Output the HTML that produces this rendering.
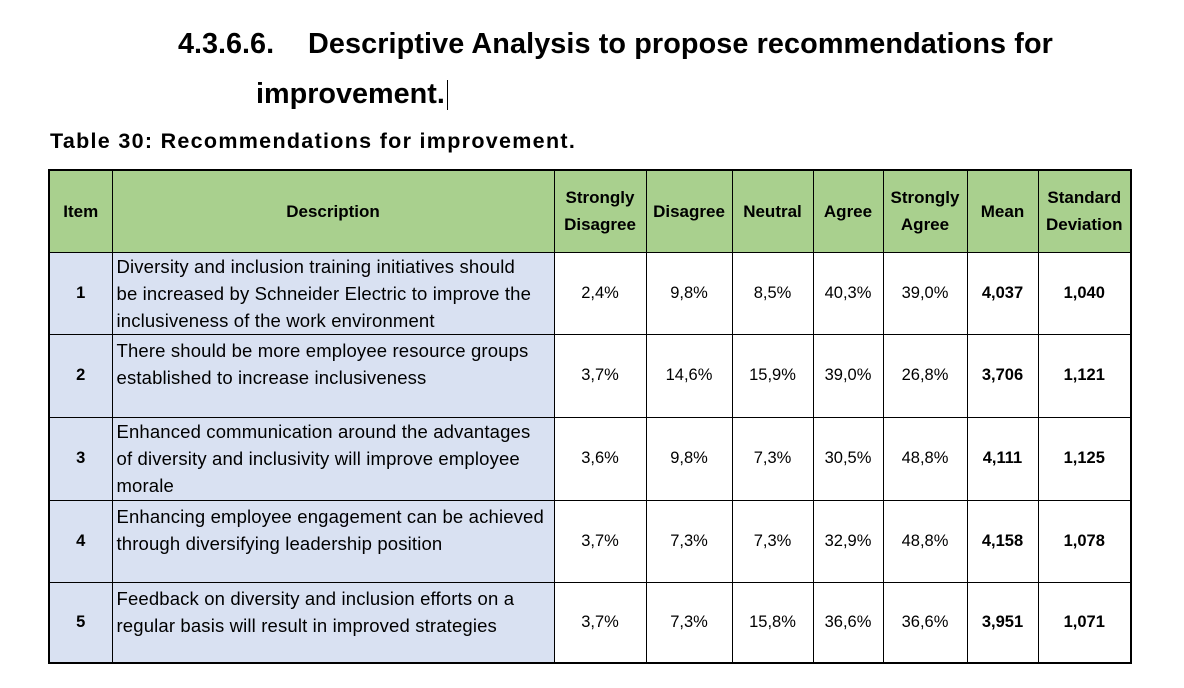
<!DOCTYPE html>
<html><head><meta charset="utf-8"><style>
body{margin:0;width:1184px;height:688px;background:#fff;position:relative;font-family:"Liberation Sans",sans-serif;overflow:hidden}
.h{position:absolute;font-weight:bold;font-size:28.8px;color:#000;white-space:nowrap}
table{position:absolute;left:48px;top:169px;border-collapse:collapse;border:2px solid #000}
td{border:1px solid #000;font-size:16.5px;text-align:center;padding:0;white-space:nowrap;line-height:27px}
.g td{background:#a9d08e;font-weight:bold;line-height:27px;font-size:17px}
.b{background:#d9e1f2}
.d{text-align:left;padding-left:4px;font-size:18.5px;letter-spacing:0.15px}
.bold{font-weight:bold}
</style></head><body>
<div class="h" style="left:178px;top:28px">4.3.6.6.</div>
<div class="h" style="left:308px;top:28px;letter-spacing:0.1px">Descriptive Analysis to propose recommendations for</div>
<div class="h" style="left:256px;top:78px">improvement.<span style="display:inline-block;width:1px;height:30px;background:#000;vertical-align:middle;margin-left:2px"></span></div>
<div class="h" style="left:50px;top:129px;font-size:21.5px;letter-spacing:1.3px">Table 30: Recommendations for improvement.</div>
<table>
<colgroup><col style="width:63px"><col style="width:442px"><col style="width:92px"><col style="width:86px"><col style="width:81px"><col style="width:70px"><col style="width:84px"><col style="width:71px"><col style="width:93px"></colgroup>
<tr class="g" style="height:82px"><td>Item</td><td>Description</td><td>Strongly<br>Disagree</td><td>Disagree</td><td>Neutral</td><td>Agree</td><td>Strongly<br>Agree</td><td>Mean</td><td>Standard<br>Deviation</td></tr>
<tr style="height:82px"><td class="b bold">1</td><td class="b d">Diversity and inclusion training initiatives should<br>be increased by Schneider Electric to improve the<br>inclusiveness of the work environment</td><td>2,4%</td><td>9,8%</td><td>8,5%</td><td>40,3%</td><td>39,0%</td><td class="bold">4,037</td><td class="bold">1,040</td></tr>
<tr style="height:83px"><td class="b bold">2</td><td class="b d" style="vertical-align:top;padding-top:2px">There should be more employee resource groups<br>established to increase inclusiveness</td><td>3,7%</td><td>14,6%</td><td>15,9%</td><td>39,0%</td><td>26,8%</td><td class="bold">3,706</td><td class="bold">1,121</td></tr>
<tr style="height:83px"><td class="b bold">3</td><td class="b d">Enhanced communication around the advantages<br>of diversity and inclusivity will improve employee<br>morale</td><td>3,6%</td><td>9,8%</td><td>7,3%</td><td>30,5%</td><td>48,8%</td><td class="bold">4,111</td><td class="bold">1,125</td></tr>
<tr style="height:82px"><td class="b bold">4</td><td class="b d" style="vertical-align:top;padding-top:2px">Enhancing employee engagement can be achieved<br>through diversifying leadership position</td><td>3,7%</td><td>7,3%</td><td>7,3%</td><td>32,9%</td><td>48,8%</td><td class="bold">4,158</td><td class="bold">1,078</td></tr>
<tr style="height:81px"><td class="b bold">5</td><td class="b d" style="vertical-align:top;padding-top:2px">Feedback on diversity and inclusion efforts on a<br>regular basis will result in improved strategies</td><td>3,7%</td><td>7,3%</td><td>15,8%</td><td>36,6%</td><td>36,6%</td><td class="bold">3,951</td><td class="bold">1,071</td></tr>
</table>
</body></html>
